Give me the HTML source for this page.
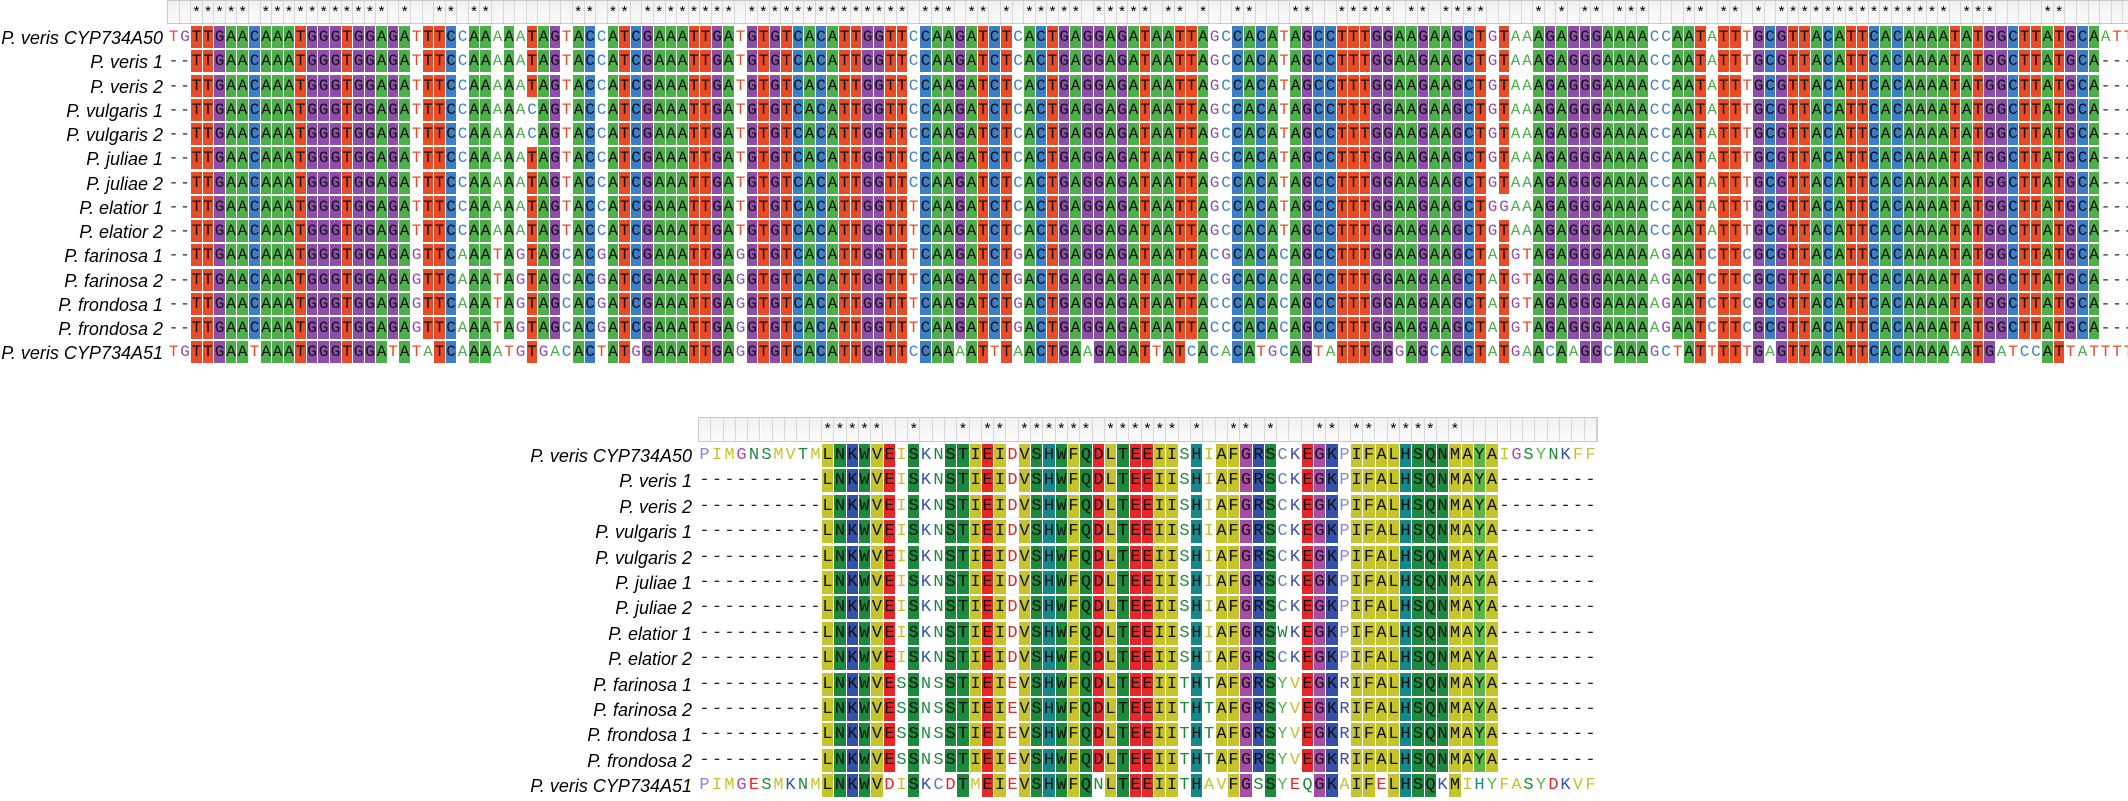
<!DOCTYPE html>
<html><head><meta charset="utf-8">
<style>
html,body{margin:0;padding:0;background:#fff;}
#root{position:relative;width:2128px;height:801px;overflow:hidden;background:#fff;}
.lbl{position:absolute;font-family:"Liberation Sans",sans-serif;font-style:italic;font-size:18px;color:#000;text-align:right;white-space:nowrap;}
.c{position:absolute;font-family:"Liberation Mono",monospace;text-align:center;box-sizing:border-box;border-right:1px solid #fff;border-bottom:2px solid #fff;overflow:hidden;}
.h{position:absolute;box-sizing:border-box;border-right:1px solid #d6d6d6;background:linear-gradient(#f0f0f0,#fbfbfb);font-family:"Liberation Sans",sans-serif;font-size:15px;text-align:center;color:#000;}
.hb{position:absolute;box-sizing:border-box;border:1px solid #c8c8c8;}
</style></head>
<body>
<div id="root"></div>
<script>
// ---- nucleotide alignment data ----
const dnaNamesFull = ["P. veris CYP734A50","P. veris 1","P. veris 2","P. vulgaris 1","P. vulgaris 2","P. juliae 1","P. juliae 2","P. elatior 1","P. elatior 2","P. farinosa 1","P. farinosa 2","P. frondosa 1","P. frondosa 2","P. veris CYP734A51"];
const p2 = "AAATTGATGTGTCACATTGGTTCCAAGATCTCACTGAGGAGAT";
const p2e = "AAATTGATGTGTCACATTGGTTTCAAGATCTCACTGAGGAGAT";
const p2f = "AAATTGAGGTGTCACATTGGTTTCAAGATCTGACTGAGGAGAT";
const p3 = "AATTAGCCACATAGCCTTTGGAAGAAGCTGTAAAGAGGGAAA";
const p4 = "ACCAATATTTGCGTTACATTCACAAAATATGGCTTATGCA---";
const p1 = "--TTGAACAAATGGGTGGAGATTTCCAAAAATAGTACCATCG";
const p1v = "--TTGAACAAATGGGTGGAGATTTCCAAAAACAGTACCATCG";
const p1f = "--TTGAACAAATGGGTGGAGAGTTCAAATAGTAGCACGATCG";
const p4f = "AAGAATCTTCGCGTTACATTCACAAAATATGGCTTATGCA---";
const dnaSeqs = [
 "TGTTGAACAAATGGGTGGAGATTTCCAAAAATAGTACCATCG"+p2+p3+"ACCAATATTTGCGTTACATTCACAAAATATGGCTTATGCAATT",
 p1+p2+p3+p4,
 p1+p2+p3+p4,
 p1v+p2+p3+p4,
 p1v+p2+p3+p4,
 p1+p2+p3+p4,
 p1+p2+p3+p4,
 p1+p2e+"AATTAGCCACATAGCCTTTGGAAGAAGCTGGAAAGAGGGAAA"+p4,
 p1+p2e+p3+p4,
 p1f+p2f+"AATTACGCACACAGCCTTTGGAAGAAGCTATGTAGAGGGAAA"+p4f,
 p1f+p2f+"AATTACGCACACAGCCTTTGGAAGAAGCTATGTAGAGGGAAA"+p4f,
 p1f+p2f+"AATTACCCACACAGCCTTTGGAAGAAGCTATGTAGAGGGAAA"+p4f,
 p1f+p2f+"AATTACCCACACAGCCTTTGGAAGAAGCTATGTAGAGGGAAA"+p4f,
 "TGTTGAATAAATGGGTGGATATATCAAAATGTGACACTATGG"+"AAATTGAGGTGTCACATTGGTTCCAAAATTTAACTGAAGAGAT"+"TATCACACATGCAGTATTTGGGAGCAGCTATGAACAAGGCAA"+"AGCTATTTTTGAGTTACATTCACAAAAAATGATCCATTATTTT"
];
// ---- protein alignment data ----
const core = "LNKWVEISKNSTIEIDVSHWFQDLTEEIISHIAFGRSCKEGKPIFALHSQNMAYA";
const coreE = "LNKWVEISKNSTIEIDVSHWFQDLTEEIISHIAFGRSWKEGKPIFALHSQNMAYA";
const coreF = "LNKWVESSNSSTIEIEVSHWFQDLTEEIITHTAFGRSYVEGKRIFALHSQNMAYA";
const gapL = "----------", gapR = "--------";
const protSeqs = [
 "PIMGNSMVTM"+core+"IGSYNKFF",
 gapL+core+gapR, gapL+core+gapR, gapL+core+gapR, gapL+core+gapR,
 gapL+core+gapR, gapL+core+gapR,
 gapL+coreE+gapR, gapL+core+gapR,
 gapL+coreF+gapR, gapL+coreF+gapR, gapL+coreF+gapR, gapL+coreF+gapR,
 "PIMGESMKNM"+"LNKWVDISKCDTMEIEVSHWFQNLTEEIITHAVFGSSYEQGKAIFELHSQKMIHY"+"FASYDKVF"
];
const dnaColors = {A:"#4daf4a",C:"#3d7fc6",G:"#8c4ea8",T:"#ea4b27"};
const protColors = {L:"#c5c42c",V:"#c5c42c",I:"#c5c42c",A:"#c5c42c",M:"#c5c42c",F:"#c5c42c",
 W:"#1c8a3d",N:"#1c8a3d",Q:"#1c8a3d",S:"#1c8a3d",T:"#1c8a3d",K:"#3550a8",R:"#3550a8",
 E:"#e8262a",D:"#e8262a",H:"#16888b",G:"#a84ca8",Y:"#5cb846",C:"#6a7fb0",P:"#8a8ad0"};

const root = document.getElementById('root');
function colInfo(seqs, c){
  const cnt = {}; let best='-', bc=0, all=true;
  for (const s of seqs){ const ch=s[c]; cnt[ch]=(cnt[ch]||0)+1; if(ch!==seqs[0][c]) all=false; }
  for (const k in cnt){ if(k!=='-' && cnt[k]>bc){bc=cnt[k];best=k;} }
  return {best:best, count:bc, cons: all && seqs[0][c]!=='-'};
}
function drawBlock(opt){
  const {names, seqs, x0, cw, y0, hh, rh, fs, colors, lblRight, prefix} = opt;
  const ncol = seqs[0].length;
  const hb = document.createElement('div');
  hb.className='hb';
  
  
  hb.style.left=(x0-1)+'px'; hb.style.top=y0+'px'; hb.style.width=(ncol*cw+2)+'px'; hb.style.height=hh+'px';
  root.appendChild(hb);
  for (let c=0;c<ncol;c++){
    const info = colInfo(seqs,c);
    const h = document.createElement('div');
    h.className='h';
    
    
    h.style.left=(x0+c*cw)+'px'; h.style.top=(y0+1)+'px'; h.style.width=cw+'px'; h.style.height=(hh-2)+'px';
    h.style.lineHeight=(hh*0.9)+'px';
    h.textContent = info.cons ? '*' : '';
    root.appendChild(h);
  }
  for (let r=0;r<seqs.length;r++){
    const top = Math.round(y0+hh+2+r*rh);
    const l = document.createElement('div');
    l.className='lbl';
    
    
    l.style.right=(2128-lblRight)+'px'; l.style.top=top+'px'; l.style.height=rh+'px'; l.style.lineHeight=rh+'px';
    l.textContent = names[r];
    root.appendChild(l);
    for (let c=0;c<ncol;c++){
      const ch = seqs[r][c];
      const info = colInfo(seqs,c);
      const e = document.createElement('div');
      e.className='c';
      
      
      const lx = Math.round(x0+c*cw), rx = Math.round(x0+(c+1)*cw);
      e.style.left=lx+'px'; e.style.top=top+'px'; e.style.width=(rx-lx)+'px'; e.style.height=Math.round(rh)+'px';
      e.style.fontSize=fs+'px'; e.style.lineHeight=(Math.round(rh)-2)+'px';
      const col = colors[ch];
      if (ch!=='-' && ch===info.best && info.count>=12 && col){
        e.style.background=col; e.style.color='#111';
      } else if (ch==='-'){ e.style.color='#222'; }
      else { e.style.color = col || '#444'; }
      e.textContent = ch;
      root.appendChild(e);
    }
  }
}
drawBlock({names:dnaNamesFull, seqs:dnaSeqs, x0:168, cw:11.57, y0:0, hh:24, rh:24.25, fs:16, colors:dnaColors, lblRight:163, prefix:'nucleotide'});
drawBlock({names:dnaNamesFull, seqs:protSeqs, x0:699, cw:12.3, y0:417, hh:25, rh:25.4, fs:17, colors:protColors, lblRight:692, prefix:'protein'});
</script>
</body></html>
